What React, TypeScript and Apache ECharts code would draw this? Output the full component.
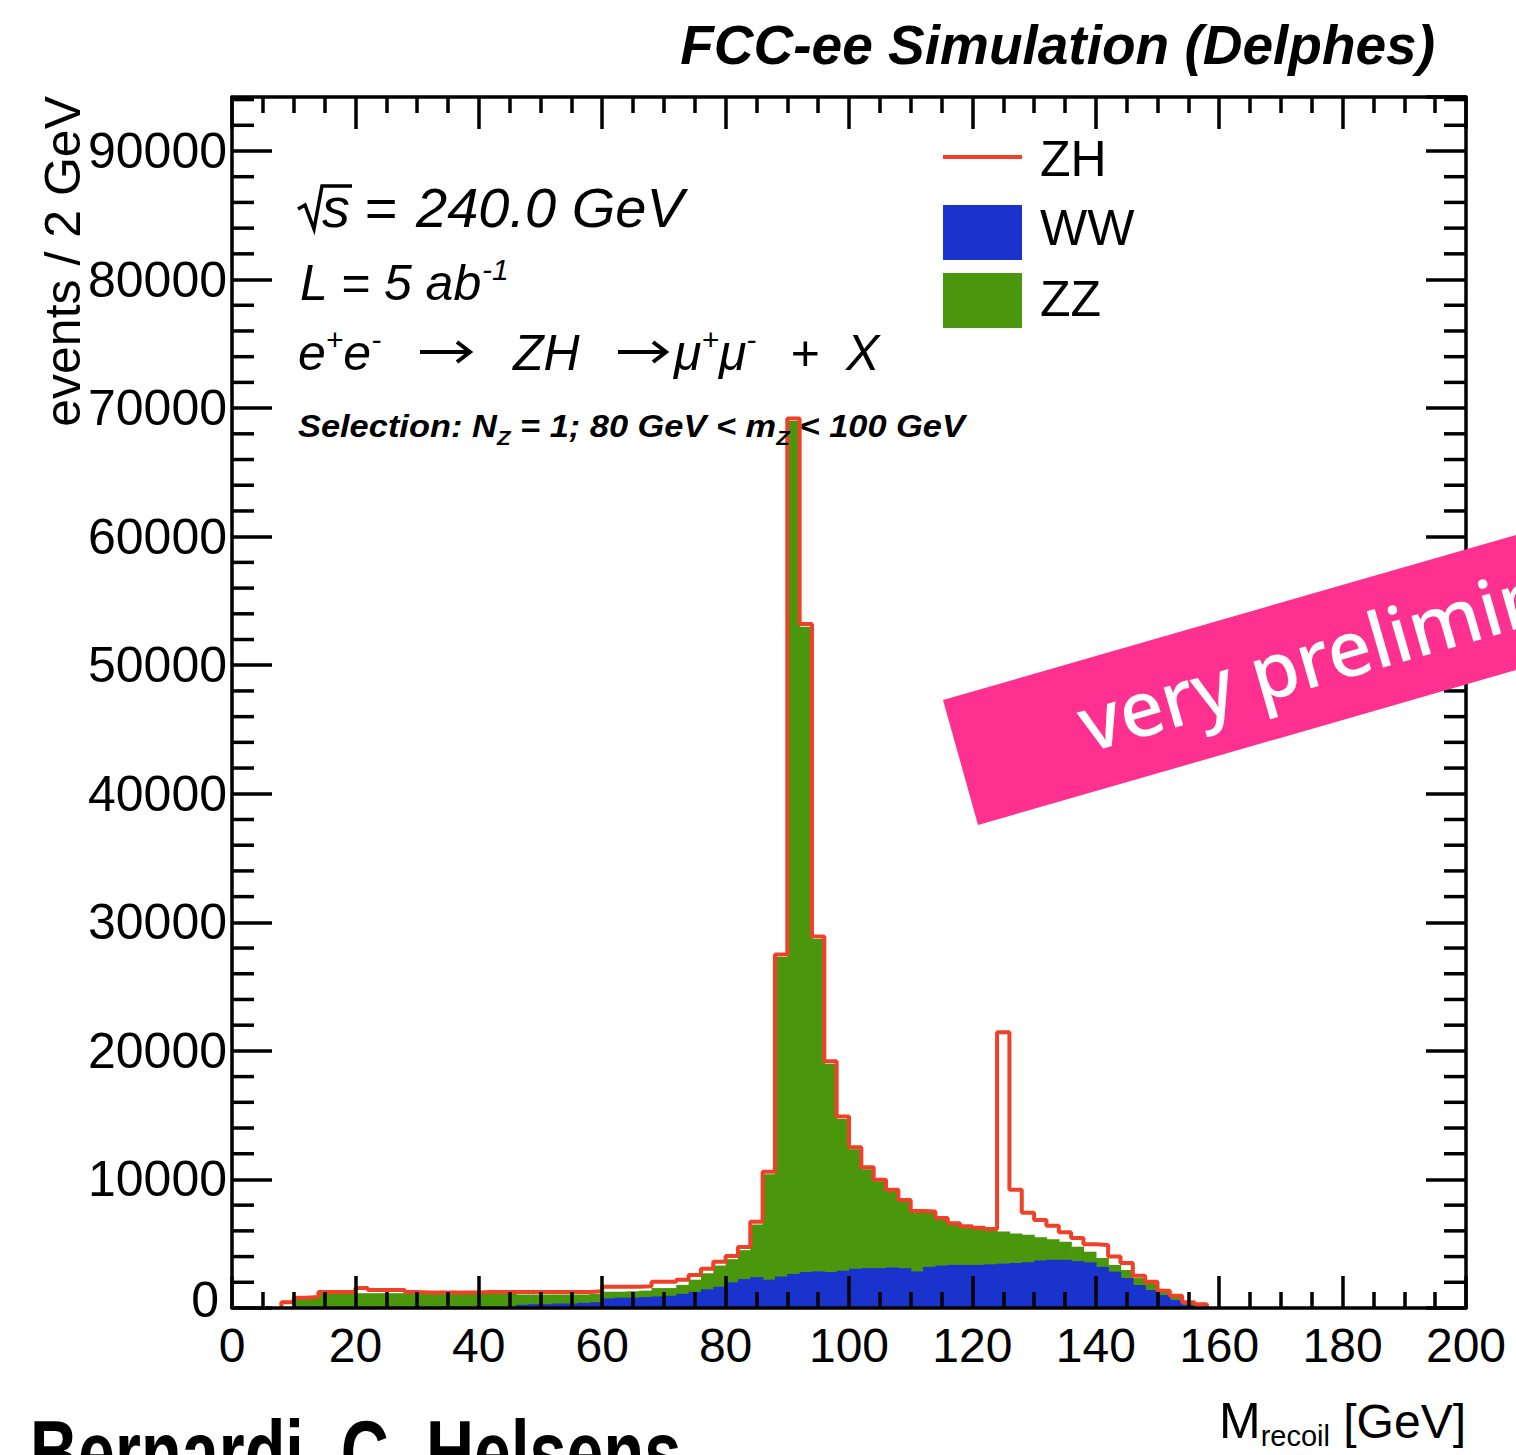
import React, { useEffect, useRef } from "react";
import * as echarts from "echarts";

// ---- binning / axes ----
const BIN_WIDTH = 2; // GeV per bin, first bin starts at 0 GeV
const X_MIN = 0;
const X_MAX = 200;
const X_STEP = 20;
const Y_MIN = 0;
const Y_MAX = 94200;
const Y_STEP = 10000;
const Y_MINOR_STEP = 2000;

// ---- histogram contents (events / 2 GeV), bins 0..159 GeV ----
const ww = [
  0, 0, 0, 0, 0, 0, 0, 0, 0, 0, 0, 0, 0, 0, 0, 0, 0, 0, 0, 0,
  0, 0, 0, 250, 300, 300, 350, 350, 400, 450, 750, 800, 800, 850, 900,
  950, 1100, 1250, 1450, 1650, 2000, 2250, 2400, 2200, 2450,
  2650, 2800, 2850, 2800, 2900, 3050, 3100, 3100, 3150, 3100,
  2850, 3200, 3300, 3350, 3350, 3350, 3400, 3450, 3500, 3550,
  3700, 3750, 3750, 3650, 3550, 3200, 2830, 2330, 1790, 1400,
  1010, 620, 230, 50, 0,
];
const zz = [
  0, 0, 0, 0, 0, 750, 800, 1150, 1150, 1150,
  1150, 1150, 1150, 1150, 1150, 1150, 1150, 1150, 1150, 1150,
  1100, 1100, 1100, 800, 750, 750, 700, 700, 650, 650,
  520, 470, 500, 500, 650, 600, 700, 950, 1250, 1650,
  1800, 2250, 4100, 8200, 24850, 66350, 50200, 25850, 16200, 11800,
  9300, 7700, 6750, 5950, 5200, 4600, 4200, 3600, 3150, 2900,
  2800, 2650, 2500, 2300, 2150, 1800, 1600, 1400, 1120, 830,
  690, 520, 630, 540, 550, 260, 260, 160, 50, 0,
];
const zh = [
  0, 0, 0, 0, 450, 50, 50, 100, 100, 100,
  400, 250, 250, 250, 100, 50, 50, 50, 50, 50,
  150, 150, 150, 200, 200, 200, 200, 200, 200, 200,
  380, 380, 350, 350, 500, 500, 400, 370, 350, 300,
  250, 250, 200, 200, 200, 200, 200, 200, 200, 200,
  150, 150, 130, 100, 100, 100, 100, 100, 100, 100,
  100, 100, 15500, 3400, 1700, 1350, 1050, 750, 680, 570,
  1010, 650, 540, 170, 100, 80, 70, 60, 200, 0,
];

const legendNames = ["ZH", "WW", "ZZ"];
const COLORS = { zh: "#ef4129", ww: "#1a33cc", zz: "#4a960c" };
const FONT = '"Liberation Sans", Arial, Helvetica, sans-serif';

let measureCtx: CanvasRenderingContext2D | null = null;
function textWidth(font: string, t: string): number {
  if (!measureCtx) measureCtx = document.createElement("canvas").getContext("2d");
  measureCtx!.font = font;
  return measureCtx!.measureText(t).width;
}

type Run = { t: string; size: number; rise?: number; italic?: boolean; bold?: boolean; at?: number };

function textRuns(
  x: number,
  baseline: number,
  runs: Run[],
  opts: { align?: "left" | "right"; fit?: number; fill?: string } = {}
) {
  const fonts = runs.map(
    (r) => `${r.italic ? "italic " : ""}${r.bold ? "bold " : ""}${r.size}px ${FONT}`
  );
  const widths = runs.map((r, i) => textWidth(fonts[i], r.t));
  const total = widths.reduce((a, b) => a + b, 0);
  const s = opts.fit ? opts.fit / total : 1;
  let cx = opts.align === "right" ? x - total * s : x;
  const els: any[] = [];
  runs.forEach((r, i) => {
    if (r.at !== undefined) cx = r.at;
    els.push({
      type: "text",
      x: cx,
      y: baseline - (r.rise || 0),
      scaleX: s,
      silent: true,
      z: 100,
      style: {
        x: 0,
        y: -0.3465 * r.size,
        text: r.t,
        font: fonts[i],
        fill: opts.fill || "#000",
        align: "left",
        verticalAlign: "middle",
        textAlign: "left",
        textVerticalAlign: "middle",
      },
    });
    cx += widths[i] * s;
  });
  return els;
}

function arrow(x: number, y: number, len: number) {
  return [
    { type: "line", z: 100, shape: { x1: x, y1: y, x2: x + len - 2, y2: y }, style: { stroke: "#000", lineWidth: 4 } },
    {
      type: "polyline",
      z: 100,
      shape: { points: [[x + len - 13, y - 10], [x + len, y], [x + len - 13, y + 10]] },
      style: { stroke: "#000", lineWidth: 4, fill: null },
    },
  ];
}

function buildOption(): any {
  const totalsBg = ww.map((v, i) => v + zz[i]);
  const totals = totalsBg.map((v, i) => v + zh[i]);

  const zzRects = totalsBg
    .map((v, i) => [i * BIN_WIDTH, (i + 1) * BIN_WIDTH, 0, v])
    .filter((d) => d[3] > 0);
  const wwRects = ww
    .map((v, i) => [i * BIN_WIDTH, (i + 1) * BIN_WIDTH, 0, v])
    .filter((d) => d[3] > 0);

  const first = totals.findIndex((v) => v > 0);
  let last = totals.length - 1;
  while (last > 0 && totals[last] === 0) last--;
  const outline: number[][] = [[first * BIN_WIDTH, 0]];
  for (let i = first; i <= last; i++) outline.push([i * BIN_WIDTH, totals[i]]);
  outline.push([(last + 1) * BIN_WIDTH, 0]);

  // minor y ticks (every 2000, except where a major tick is)
  const yMinorTicks: number[][] = [];
  for (let v = Y_MIN; v <= Y_MAX; v += Y_MINOR_STEP) {
    if (v % Y_STEP !== 0) yMinorTicks.push([X_MIN, v]);
  }

  const rectRender = (color: string) => (params: any, api: any) => {
    const p0 = api.coord([api.value(0), api.value(3)]);
    const p1 = api.coord([api.value(1), api.value(2)]);
    return {
      type: "rect",
      shape: { x: p0[0], y: p0[1], width: p1[0] - p0[0] + 0.7, height: p1[1] - p0[1] },
      style: { fill: color, stroke: null },
    };
  };

  const tickStyle = { color: "#000", width: 3.5 };
  const frameLine = { show: true, onZero: false, lineStyle: { color: "#000", width: 3.5 } };

  const xMajor = (position: string, labels: boolean) => ({
    type: "value",
    position,
    min: X_MIN,
    max: X_MAX,
    interval: X_STEP,
    z: 10,
    axisLine: frameLine,
    splitLine: { show: false },
    axisTick: { show: true, inside: true, length: 32, lineStyle: tickStyle },
    minorTick: { show: true, splitNumber: 4, length: 16, lineStyle: tickStyle },
    axisLabel: labels
      ? { show: true, fontSize: 48, fontFamily: FONT, color: "#000", margin: 13 }
      : { show: false },
  });
  const yMajor = (position: string, labels: boolean) => ({
    type: "value",
    position,
    min: Y_MIN,
    max: Y_MAX,
    interval: Y_STEP,
    z: 10,
    axisLine: frameLine,
    splitLine: { show: false },
    axisTick: { show: true, inside: true, length: 40, lineStyle: tickStyle },
    axisLabel: labels
      ? {
          show: true,
          fontSize: 50,
          fontFamily: FONT,
          color: "#000",
          margin: 5,
          showMaxLabel: false,
          formatter: (v: number) => (v === 0 ? "{z|0}" : String(v)),
          rich: { z: { fontSize: 50, fontFamily: FONT, color: "#000", padding: [0, 8, 16, 0] } },
        }
      : { show: false },
  });

  const graphics: any[] = [];
  // title
  graphics.push(
    ...textRuns(1435, 64, [{ t: "FCC-ee Simulation (Delphes)", size: 55, italic: true, bold: true }], {
      align: "right",
    })
  );
  // sqrt(s) = 240.0 GeV
  graphics.push({
    type: "polyline",
    z: 100,
    shape: { points: [[298, 209], [305, 205], [314, 229], [322, 186], [352, 186]] },
    style: { stroke: "#000", lineWidth: 3.5, fill: null },
  });
  graphics.push(
    ...textRuns(322, 227, [
      { t: "s", size: 56, italic: true },
      { t: "=", size: 56, italic: true, at: 364 },
      { t: "240.0 GeV", size: 56, italic: true, at: 416 },
    ])
  );
  // luminosity
  graphics.push(
    ...textRuns(300, 300, [
      { t: "L = 5 ab", size: 50, italic: true },
      { t: "-1", size: 30, italic: true, rise: 20 },
    ])
  );
  // process
  graphics.push(
    ...textRuns(298, 370, [
      { t: "e", size: 50, italic: true },
      { t: "+", size: 30, italic: true, rise: 20 },
      { t: "e", size: 50, italic: true },
      { t: "-", size: 30, italic: true, rise: 20 },
      { t: "ZH", size: 50, italic: true, at: 513 },
      { t: "\u03BC", size: 50, italic: true, at: 674 },
      { t: "+", size: 30, italic: true, rise: 20 },
      { t: "\u03BC", size: 50, italic: true },
      { t: "-", size: 30, italic: true, rise: 20 },
      { t: "+", size: 50, italic: true, at: 790 },
      { t: "X", size: 50, italic: true, at: 846 },
    ])
  );
  graphics.push(...arrow(420, 352, 50));
  graphics.push(...arrow(618, 352, 48));
  // selection
  graphics.push(
    ...textRuns(
      298,
      437,
      [
        { t: "Selection: N", size: 31, italic: true, bold: true },
        { t: "Z", size: 20, italic: true, bold: true, rise: -8 },
        { t: " = 1; 80 GeV < m", size: 31, italic: true, bold: true },
        { t: "Z", size: 20, italic: true, bold: true, rise: -8 },
        { t: " < 100 GeV", size: 31, italic: true, bold: true },
      ],
      { fit: 667 }
    )
  );
  // legend
  graphics.push({ type: "line", z: 100, shape: { x1: 943, y1: 157, x2: 1022, y2: 157 }, style: { stroke: COLORS.zh, lineWidth: 4 } });
  graphics.push({ type: "rect", z: 100, shape: { x: 943, y: 205, width: 79, height: 55 }, style: { fill: COLORS.ww } });
  graphics.push({ type: "rect", z: 100, shape: { x: 943, y: 273, width: 79, height: 55 }, style: { fill: COLORS.zz } });
  graphics.push(...textRuns(1040, 176, [{ t: legendNames[0], size: 50 }]));
  graphics.push(...textRuns(1040, 245, [{ t: legendNames[1], size: 50 }]));
  graphics.push(...textRuns(1040, 316, [{ t: legendNames[2], size: 50 }]));
  // y title (rotated)
  graphics.push({
    type: "text",
    x: 80,
    y: 96,
    rotation: Math.PI / 2,
    z: 100,
    style: {
      x: 0,
      y: -0.3465 * 50,
      text: "events / 2 GeV",
      font: `50px ${FONT}`,
      fill: "#000",
      align: "right",
      verticalAlign: "middle",
      textAlign: "right",
      textVerticalAlign: "middle",
    },
  });
  // x title
  graphics.push(
    ...textRuns(
      1466,
      1438,
      [
        { t: "M", size: 50 },
        { t: "recoil", size: 29, rise: -8 },
        { t: " [GeV]", size: 48 },
      ],
      { align: "right" }
    )
  );
  // banner
  graphics.push({
    type: "polygon",
    z: 200,
    shape: { points: [[943, 700], [1530, 531], [1530, 666], [978, 825]] },
    style: { fill: "#ff3190" },
  });
  graphics.push({
    type: "text",
    x: 1088,
    y: 753,
    rotation: Math.atan(0.288),
    z: 201,
    style: {
      x: 0,
      y: -0.388 * 77,
      text: "very preliminary",
      font: '500 77px "Noto Sans", sans-serif',
      fill: "#ffffff",
      align: "left",
      verticalAlign: "middle",
      textAlign: "left",
      textVerticalAlign: "middle",
    },
  });
  // author line (cut at page bottom, as in the original)
  graphics.push({
    type: "text",
    x: 30,
    y: 1484,
    scaleX: 0.74,
    z: 100,
    style: {
      x: 0,
      y: -0.3465 * 90,
      text: "Bernardi, C. Helsens",
      font: `bold 90px ${FONT}`,
      fill: "#000",
      align: "left",
      verticalAlign: "middle",
      textAlign: "left",
      textVerticalAlign: "middle",
    },
  });

  return {
    animation: false,
    backgroundColor: "#fff",
    grid: { left: 232, top: 97, width: 1234, height: 1211, containLabel: false, outerBoundsMode: "none" },
    xAxis: [xMajor("bottom", true), xMajor("top", false)],
    yAxis: [yMajor("left", true), yMajor("right", false)],
    series: [
      {
        name: "ZZ",
        type: "custom",
        xAxisIndex: 0,
        yAxisIndex: 0,
        z: 2,
        renderItem: rectRender(COLORS.zz),
        encode: { x: [0, 1], y: [2, 3] },
        data: zzRects,
      },
      {
        name: "WW",
        type: "custom",
        xAxisIndex: 0,
        yAxisIndex: 0,
        z: 3,
        renderItem: rectRender(COLORS.ww),
        encode: { x: [0, 1], y: [2, 3] },
        data: wwRects,
      },
      {
        name: "ZH",
        type: "line",
        xAxisIndex: 0,
        yAxisIndex: 0,
        z: 4,
        step: "end",
        symbol: "none",
        lineStyle: { color: COLORS.zh, width: 4 },
        data: outline,
      },
      {
        name: "yMinorTicks",
        type: "custom",
        xAxisIndex: 0,
        yAxisIndex: 0,
        z: 12,
        silent: true,
        encode: { x: 0, y: 1 },
        data: yMinorTicks,
        renderItem: (params: any, api: any) => {
          const y = api.coord([X_MIN, api.value(1)])[1];
          const cs = params.coordSys;
          return {
            type: "group",
            children: [
              { type: "line", shape: { x1: cs.x, y1: y, x2: cs.x + 22, y2: y }, style: { stroke: "#000", lineWidth: 3.5 } },
              {
                type: "line",
                shape: { x1: cs.x + cs.width - 22, y1: y, x2: cs.x + cs.width, y2: y },
                style: { stroke: "#000", lineWidth: 3.5 },
              },
            ],
          };
        },
      },
    ],
    graphic: { elements: graphics },
  };
}

export default function App() {
  const ref = useRef<HTMLDivElement>(null);
  useEffect(() => {
    const chart = echarts.init(ref.current!, null, { renderer: "svg" });
    chart.setOption(buildOption());
    return () => chart.dispose();
  }, []);
  return (
    <div
      ref={ref}
      style={{ position: "absolute", left: 0, top: 0, width: 1516, height: 1455, background: "#fff", overflow: "hidden" }}
    />
  );
}
